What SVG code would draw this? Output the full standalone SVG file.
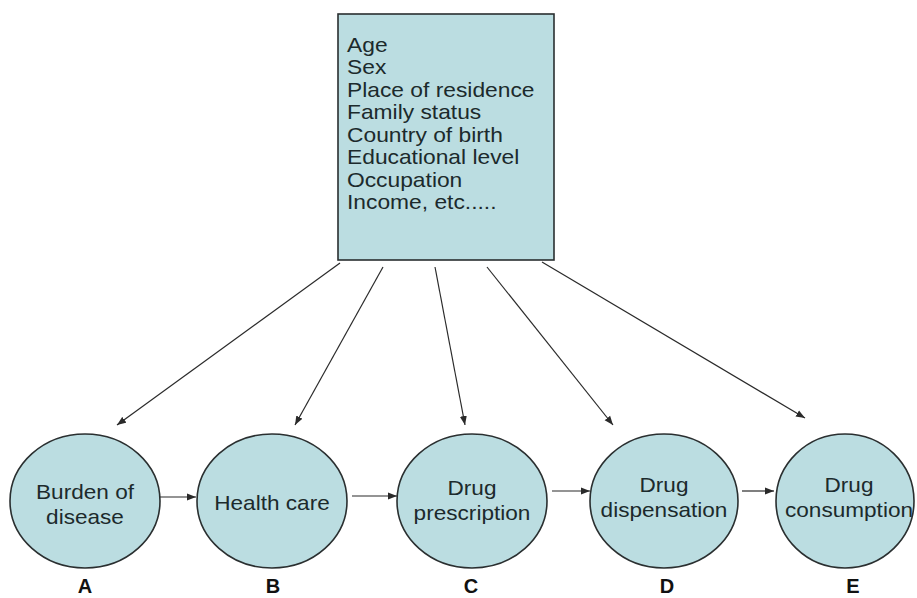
<svg xmlns="http://www.w3.org/2000/svg" width="917" height="598" viewBox="0 0 917 598">
<style>
.shape{fill:#bbdde1;stroke:#2a2f30;stroke-width:1.6}
.t{font-family:"Liberation Sans",Arial,sans-serif;font-size:20px;fill:#1c2a2c}
.c{text-anchor:middle}
.lbl{font-family:"Liberation Sans",Arial,sans-serif;font-size:20px;font-weight:bold;fill:#111;text-anchor:middle}
.conn{stroke:#2a2a2a;stroke-width:1.2;fill:none;marker-end:url(#ah)}
</style>
<defs>
<marker id="ah" markerWidth="10" markerHeight="8" refX="9" refY="4" orient="auto" markerUnits="userSpaceOnUse">
<path d="M0,0.5 L9,4 L0,7.5 Z" fill="#2a2a2a"/>
</marker>
</defs>
<rect width="917" height="598" fill="#fff"/>
<g id="factors">
<rect class="shape" x="338" y="14" width="216" height="246"/>
<g transform="translate(347,0) scale(1.14,1)">
<text class="t" x="0" y="52">Age</text>
<text class="t" x="0" y="74.5">Sex</text>
<text class="t" x="0" y="97">Place of residence</text>
<text class="t" x="0" y="119.5">Family status</text>
<text class="t" x="0" y="142">Country of birth</text>
<text class="t" x="0" y="164.5">Educational level</text>
<text class="t" x="0" y="187">Occupation</text>
<text class="t" x="0" y="209.5">Income, etc.....</text>
</g>
</g>
<g id="A">
<ellipse class="shape" cx="85" cy="501" rx="75" ry="67"/>
<g transform="translate(85,0) scale(1.13,1)">
<text class="t c" x="0" y="499">Burden of</text>
<text class="t c" x="0" y="524">disease</text>
</g>
<text class="lbl" x="85" y="593">A</text>
</g>
<g id="B">
<ellipse class="shape" cx="272" cy="501" rx="75" ry="67"/>
<g transform="translate(272,0) scale(1.13,1)">
<text class="t c" x="0" y="510">Health care</text>
</g>
<text class="lbl" x="273" y="593">B</text>
</g>
<g id="C">
<ellipse class="shape" cx="472" cy="501" rx="75" ry="67"/>
<g transform="translate(472,0) scale(1.13,1)">
<text class="t c" x="0" y="495">Drug</text>
<text class="t c" x="0" y="520">prescription</text>
</g>
<text class="lbl" x="471" y="593">C</text>
</g>
<g id="D">
<ellipse class="shape" cx="664" cy="501" rx="74" ry="67"/>
<g transform="translate(664,0) scale(1.13,1)">
<text class="t c" x="0" y="492">Drug</text>
<text class="t c" x="0" y="517">dispensation</text>
</g>
<text class="lbl" x="667" y="593">D</text>
</g>
<g id="E">
<ellipse class="shape" cx="845" cy="501" rx="69" ry="67"/>
<g transform="translate(849,0) scale(1.13,1)">
<text class="t c" x="0" y="492">Drug</text>
<text class="t c" x="0" y="517">consumption</text>
</g>
<text class="lbl" x="853" y="593">E</text>
</g>
<g id="connectors">
<line class="conn" x1="340" y1="263" x2="117" y2="425"/>
<line class="conn" x1="383" y1="267" x2="295" y2="425"/>
<line class="conn" x1="435" y1="267" x2="465" y2="425"/>
<line class="conn" x1="487" y1="267" x2="613" y2="425"/>
<line class="conn" x1="542" y1="262" x2="805" y2="418"/>
<line class="conn" x1="160" y1="497" x2="196" y2="497"/>
<line class="conn" x1="352" y1="496" x2="397" y2="496"/>
<line class="conn" x1="552" y1="491" x2="590" y2="491"/>
<line class="conn" x1="742" y1="491" x2="774" y2="491"/>
</g>
</svg>
